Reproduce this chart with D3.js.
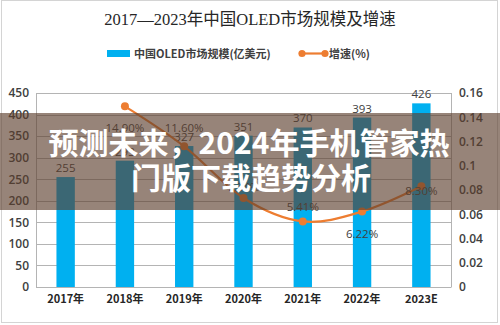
<!DOCTYPE html>
<html>
<head>
<meta charset="utf-8">
<script src="https://cdn.jsdelivr.net/npm/d3@7/dist/d3.min.js"></script>
<style>
  html, body { margin: 0; padding: 0; background: #ffffff; }
  svg { display: block; }
</style>
</head>
<body>
<svg id="chart" width="500" height="325"></svg>
<script>
// Market size of China's OLED market (100 million USD) and yearly growth rate
const years = ["2017年", "2018年", "2019年", "2020年", "2021年", "2022年", "2023E"];
const marketSize = [255, 293, 327, 351, 370, 393, 426];
const growthYears = ["2018年", "2019年", "2020年", "2021年", "2022年", "2023E"];
const growthRate = [0.149, 0.116, 0.0734, 0.0541, 0.0622, 0.083];
const growthLabels = ["14.90%", "11.60%", "7.34%", "5.41%", "6.22%", "8.30%"];
const leftTicks = [0, 50, 100, 150, 200, 250, 300, 350, 400, 450];
const rightTicks = [0, 0.02, 0.04, 0.06, 0.08, 0.1, 0.12, 0.14, 0.16];
const rightTickLabels = ["0", "0.02", "0.04", "0.06", "0.08", "0.1", "0.12", "0.14", "0.16"];

const svg = d3.select("#chart");
const W = 500, H = 325;
const plot = { left: 36, right: 451, top: 93, bottom: 287 };

const BLUE = "#00b0f0";
const ORANGE = "#ed7d31";
const TEXT = "#404040";
const GRID = "#b4b4b4";
const CJK = "'Noto Sans CJK SC', 'Noto Sans', sans-serif";
const NUM = "'Open Sans', 'Noto Sans', 'Noto Sans CJK SC', sans-serif";

// outer frame
svg.append("rect")
  .attr("x", 1.5).attr("y", 0.5).attr("width", W - 4).attr("height", H - 3)
  .attr("fill", "#ffffff").attr("stroke", "#d4d4d4").attr("stroke-width", 1);

const x = d3.scaleBand().domain(years).range([plot.left, plot.right])
  .paddingInner(0.69).paddingOuter(0.345);
const y = d3.scaleLinear().domain([0, 450]).range([plot.bottom, plot.top]);
const y2 = d3.scaleLinear().domain([0, 0.16]).range([plot.bottom, plot.top]);

// title
svg.append("text")
  .attr("x", 250).attr("y", 25)
  .attr("text-anchor", "middle")
  .attr("font-family", "'Liberation Serif', 'DejaVu Serif', 'Noto Sans CJK SC', serif")
  .attr("font-size", 16.5).attr("fill", "#262626")
  .text("2017—2023年中国OLED市场规模及增速");

// legend
const legend = svg.append("g").attr("font-family", CJK).attr("font-weight", "bold")
  .attr("font-size", 11).attr("fill", TEXT);
legend.append("rect").attr("x", 107).attr("y", 50).attr("width", 23).attr("height", 7).attr("fill", BLUE);
legend.append("text").attr("x", 134).attr("y", 57.5).text("中国OLED市场规模(亿美元)");
legend.append("line").attr("x1", 302).attr("x2", 325).attr("y1", 53.5).attr("y2", 53.5)
  .attr("stroke", ORANGE).attr("stroke-width", 2.2);
legend.selectAll("circle.lg").data([302, 325]).join("circle").attr("class", "lg")
  .attr("cx", d => d).attr("cy", 53.5).attr("r", 3.6).attr("fill", ORANGE);
legend.append("text").attr("x", 329).attr("y", 57.5).text("增速(%)");

// gridlines
svg.append("g").selectAll("line").data(leftTicks).join("line")
  .attr("x1", plot.left).attr("x2", plot.right)
  .attr("y1", d => Math.round(y(d)) + 0.5).attr("y2", d => Math.round(y(d)) + 0.5)
  .attr("stroke", GRID).attr("stroke-width", 1);

// plot area box sides
svg.append("line").attr("x1", plot.left + 0.5).attr("x2", plot.left + 0.5)
  .attr("y1", plot.top).attr("y2", plot.bottom).attr("stroke", GRID);
svg.append("line").attr("x1", plot.right + 0.5).attr("x2", plot.right + 0.5)
  .attr("y1", plot.top).attr("y2", plot.bottom).attr("stroke", GRID);

// left axis
const leftAxis = svg.append("g").attr("transform", `translate(${plot.left},0)`)
  .call(d3.axisLeft(y).tickValues(leftTicks).tickSize(0).tickPadding(7));
leftAxis.select(".domain").remove();
leftAxis.selectAll("text").attr("font-family", NUM).attr("font-size", 12)
  .attr("font-weight", 600).attr("fill", TEXT);

// right axis
const rightAxis = svg.append("g").attr("transform", `translate(${plot.right},0)`)
  .call(d3.axisRight(y2).tickValues(rightTicks).tickSize(0).tickPadding(8)
    .tickFormat((d, i) => rightTickLabels[i]));
rightAxis.select(".domain").remove();
rightAxis.selectAll("text").attr("font-family", NUM).attr("font-size", 12)
  .attr("font-weight", 600).attr("fill", TEXT);

// bottom axis
const bottomAxis = svg.append("g").attr("transform", `translate(0,${plot.bottom})`)
  .call(d3.axisBottom(x).tickSize(0).tickPadding(8));
bottomAxis.select(".domain").attr("stroke", GRID);
bottomAxis.selectAll("text").attr("font-family", CJK).attr("font-size", 11)
  .attr("font-weight", "bold").attr("fill", "#262626");

// bars
svg.append("g").selectAll("rect").data(marketSize).join("rect")
  .attr("x", (d, i) => x(years[i])).attr("width", x.bandwidth())
  .attr("y", d => y(d)).attr("height", d => y(0) - y(d))
  .attr("fill", BLUE);

// bar value labels
svg.append("g").selectAll("text").data(marketSize).join("text")
  .attr("x", (d, i) => x(years[i]) + x.bandwidth() / 2)
  .attr("y", d => y(d) - 5)
  .attr("text-anchor", "middle")
  .attr("font-family", NUM).attr("font-size", 11.5).attr("fill", TEXT)
  .text(d => d);

// growth line
const cx = (d, i) => x(growthYears[i]) + x.bandwidth() / 2;
const line = d3.line().x(cx).y(d => y2(d)).curve(d3.curveCardinal.tension(0));
svg.append("path").datum(growthRate)
  .attr("d", line).attr("fill", "none")
  .attr("stroke", ORANGE).attr("stroke-width", 2.2);
svg.append("g").selectAll("circle").data(growthRate).join("circle")
  .attr("cx", cx).attr("cy", d => y2(d)).attr("r", 4).attr("fill", ORANGE);

// growth value labels, offset vertically from each point
const growthLabelDy = [26, -14, -7, -10, 26, 9];
svg.append("g").selectAll("text").data(growthRate).join("text")
  .attr("x", cx).attr("y", (d, i) => y2(d) + growthLabelDy[i])
  .attr("text-anchor", "middle")
  .attr("font-family", NUM).attr("font-size", 11.5).attr("fill", TEXT)
  .text((d, i) => growthLabels[i]);

// headline banner across the chart
svg.append("rect").attr("x", 0).attr("y", 113).attr("width", W).attr("height", 97)
  .attr("fill", "rgb(92,62,46)").attr("fill-opacity", 0.64);
const banner = svg.append("g").attr("font-family", CJK).attr("font-weight", "bold")
  .attr("font-size", 30).attr("fill", "#ffffff").attr("text-anchor", "middle");
banner.append("text").attr("x", 249).attr("y", 154).text("预测未来，2024年手机管家热");
banner.append("text").attr("x", 251).attr("y", 189).text("门版下载趋势分析");
</script>
</body>
</html>
